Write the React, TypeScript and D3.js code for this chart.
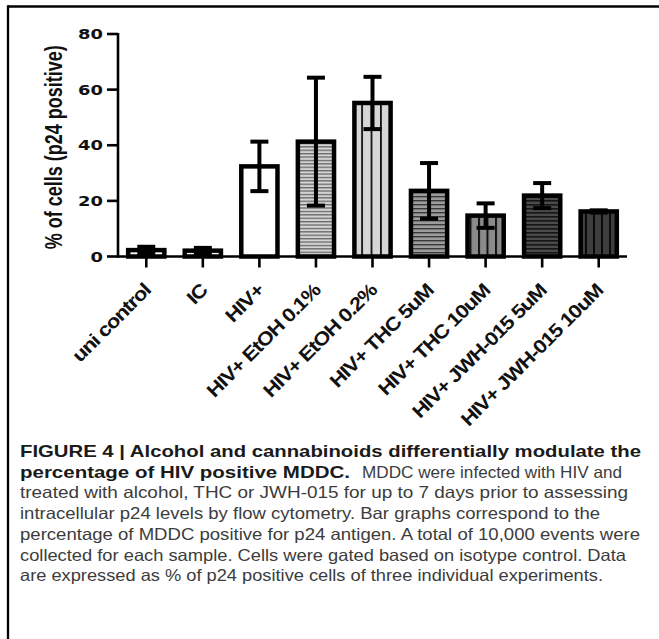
import React from "react";
import * as d3 from "d3";

const categories = [
  "uni control",
  "IC",
  "HIV+",
  "HIV+ EtOH 0.1%",
  "HIV+ EtOH 0.2%",
  "HIV+ THC 5uM",
  "HIV+ THC 10uM",
  "HIV+ JWH-015 5uM",
  "HIV+ JWH-015 10uM",
];
const means = [2.3, 2.1, 32.4, 41.3, 55.2, 23.6, 14.7, 21.9, 16.2];
const errors = [1.2, 1.0, 8.9, 23.0, 9.4, 10.0, 4.4, 4.5, 0.4];
const yTicks = [0, 20, 40, 60, 80];
const yTitle = "% of cells (p24 positive)";

const captionLines: { bold: string; regular: string }[] = [
  { bold: "FIGURE 4 | Alcohol and cannabinoids differentially modulate the", regular: "" },
  { bold: "percentage of HIV positive MDDC.", regular: "MDDC were infected with HIV and" },
  { bold: "", regular: "treated with alcohol, THC or JWH-015 for up to 7 days prior to assessing" },
  { bold: "", regular: "intracellular p24 levels by flow cytometry. Bar graphs correspond to the" },
  { bold: "", regular: "percentage of MDDC positive for p24 antigen. A total of 10,000 events were" },
  { bold: "", regular: "collected for each sample. Cells were gated based on isotype control. Data" },
  { bold: "", regular: "are expressed as % of p24 positive cells of three individual experiments." },
];
// measured line extents (style/layout)
const captionLayout = [
  { bEnd: 641, rStart: 0, rEnd: 0 },
  { bEnd: 350, rStart: 362, rEnd: 622 },
  { bEnd: 0, rStart: 20, rEnd: 628 },
  { bEnd: 0, rStart: 20, rEnd: 600 },
  { bEnd: 0, rStart: 20, rEnd: 640 },
  { bEnd: 0, rStart: 20, rEnd: 626 },
  { bEnd: 0, rStart: 20, rEnd: 603 },
];

const FILLS = [
  "#ffffff",
  "#ffffff",
  "#ffffff",
  "url(#pEt1)",
  "url(#pEt2)",
  "url(#pThc5)",
  "url(#pThc10)",
  "url(#pJwh5)",
  "url(#pJwh10)",
];

const W = 659;
const H = 639;

export default function App() {
  const x = d3
    .scaleBand<string>()
    .domain(categories)
    .range([118, 627])
    .paddingInner(0.36)
    .paddingOuter(0.18);
  const y = d3.scaleLinear().domain([0, 80]).range([256.5, 34]);
  const bw = x.bandwidth();
  const capHalf = 9;

  const font = "'Liberation Sans', Arial, sans-serif";

  return (
    <svg
      width={W}
      height={H}
      style={{ position: "absolute", left: 0, top: 0, background: "#fff" }}
      fontFamily={font}
    >
      <defs>
        <pattern id="pEt1" patternUnits="userSpaceOnUse" width={6} height={3.4}>
          <rect width={6} height={3.4} fill="#d4d4d4" />
          <rect width={6} height={1.3} fill="#676767" />
        </pattern>
        <pattern id="pEt2" patternUnits="userSpaceOnUse" width={9.4} height={6} x={4}>
          <rect width={9.4} height={6} fill="#d6d6d6" />
          <rect width={1.8} height={6} fill="#111" />
        </pattern>
        <pattern id="pThc5" patternUnits="userSpaceOnUse" width={6} height={4}>
          <rect width={6} height={4} fill="#9c9c9c" />
          <rect width={6} height={1.4} fill="#3a3a3a" />
        </pattern>
        <pattern id="pThc10" patternUnits="userSpaceOnUse" width={8.5} height={6} x={2}>
          <rect width={8.5} height={6} fill="#8a8a8a" />
          <rect width={2} height={6} fill="#111" />
        </pattern>
        <pattern id="pJwh5" patternUnits="userSpaceOnUse" width={6} height={4}>
          <rect width={6} height={4} fill="#4a4a4a" />
          <rect width={6} height={1.6} fill="#151515" />
        </pattern>
        <pattern id="pJwh10" patternUnits="userSpaceOnUse" width={8} height={6} x={1}>
          <rect width={8} height={6} fill="#3d3d3d" />
          <rect width={2} height={6} fill="#0a0a0a" />
        </pattern>
      </defs>

      {/* frame */}
      <line x1={8} x2={W} y1={6.5} y2={6.5} stroke="#000" strokeWidth={2.5} />
      <line x1={8} x2={8} y1={5.3} y2={H} stroke="#000" strokeWidth={2.3} />

      {/* bars */}
      {categories.map((c, i) => (
        <rect
          key={c}
          x={x(c)!}
          y={y(means[i])}
          width={bw}
          height={y(0) - y(means[i])}
          fill={FILLS[i]}
          stroke="#000"
          strokeWidth={4.5}
        />
      ))}

      {/* error bars */}
      {categories.map((c, i) => {
        const cx = x(c)! + bw / 2;
        const hi = y(means[i] + errors[i]);
        const lo = y(Math.max(0, means[i] - errors[i]));
        return (
          <g key={c} stroke="#000" strokeWidth={4}>
            <line x1={cx} x2={cx} y1={hi} y2={lo} />
            <line x1={cx - capHalf} x2={cx + capHalf} y1={hi} y2={hi} />
            <line x1={cx - capHalf} x2={cx + capHalf} y1={lo} y2={lo} />
          </g>
        );
      })}

      {/* y axis */}
      <line x1={118} x2={118} y1={y(80) - 1} y2={y(0) + 1.2} stroke="#000" strokeWidth={2.6} />
      {yTicks.map((t) => (
        <g key={t} transform={`translate(118,${y(t)})`}>
          <line x1={-11} x2={0} stroke="#000" strokeWidth={2.6} />
          <text
            transform="translate(-15,0) scale(1.28,1)"
            textAnchor="end"
            dy="0.36em"
            fontSize={14}
            fontWeight="bold"
            fontFamily="'DejaVu Sans', sans-serif"
            fill="#111"
          >
            {t}
          </text>
        </g>
      ))}
      <text
        transform={`translate(62,${(y(0) + y(80)) / 2 + 2}) scale(1.3,1) rotate(-90)`}
        textAnchor="middle"
        fontSize={18}
        fontWeight="bold"
        fill="#111"
      >
        {yTitle}
      </text>

      {/* x axis */}
      <line x1={118} x2={627} y1={y(0)} y2={y(0)} stroke="#000" strokeWidth={2.6} />
      {categories.map((c) => {
        const cx = x(c)! + bw / 2;
        return (
          <g key={c}>
            <line x1={cx} x2={cx} y1={y(0)} y2={y(0) + 11} stroke="#000" strokeWidth={2.6} />
            <g transform={`translate(${cx - 4},282) rotate(-45)`}>
              <text
                transform="scale(1.15,1)"
                textAnchor="end"
                dy="0.71em"
                fontSize={19}
                fontWeight="bold"
                letterSpacing={-0.9}
                fill="#111"
              >
                {c}
              </text>
            </g>
          </g>
        );
      })}

      {/* caption */}
      {captionLines.map((ln, i) => {
        const base = 457 + i * 20.7;
        const L = captionLayout[i];
        return (
          <g key={i} fontSize={16.5}>
            {ln.bold && (
              <text
                x={20}
                y={base}
                fontWeight="bold"
                fill="#1a1a1a"
                textLength={L.bEnd - 20}
                lengthAdjust="spacingAndGlyphs"
              >
                {ln.bold}
              </text>
            )}
            {ln.regular && (
              <text
                x={L.rStart}
                y={base}
                fill="#3c3c3c"
                textLength={L.rEnd - L.rStart}
                lengthAdjust="spacingAndGlyphs"
              >
                {ln.regular}
              </text>
            )}
          </g>
        );
      })}
    </svg>
  );
}
